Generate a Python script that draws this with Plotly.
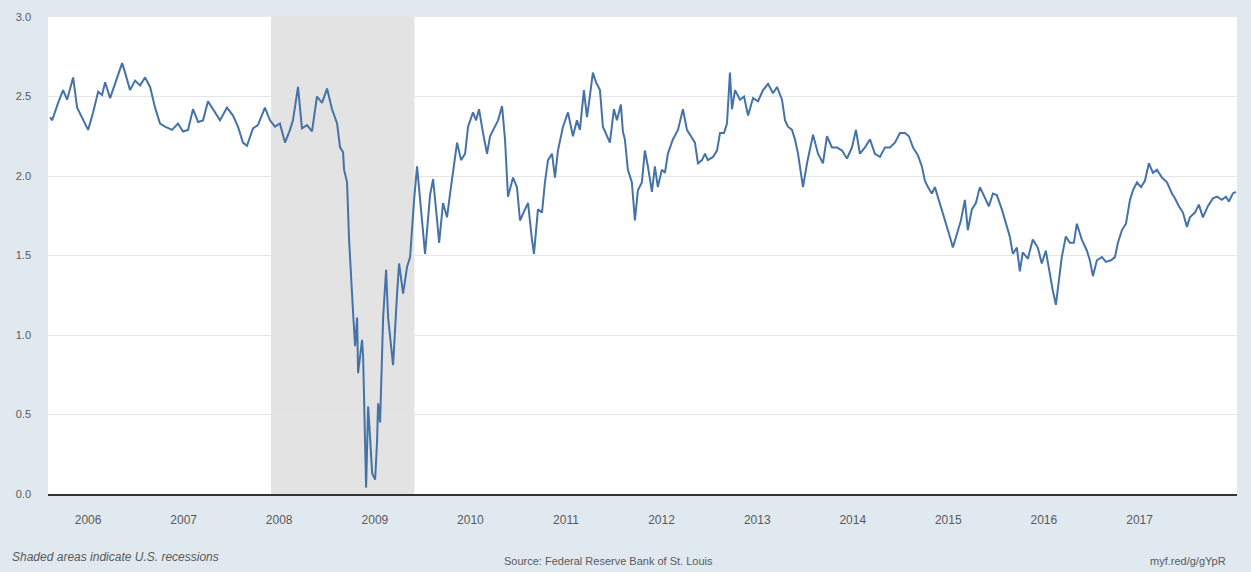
import plotly.graph_objects as go
from datetime import datetime

# Decimal-year dates and values
dec_years = [
    2005.603, 2005.623, 2005.686, 2005.738, 2005.780, 2005.812, 2005.843, 2005.885, 2005.937,
    2006.000, 2006.052, 2006.105, 2006.146, 2006.178, 2006.230, 2006.282, 2006.356, 2006.387,
    2006.439, 2006.492, 2006.544, 2006.596, 2006.649, 2006.701, 2006.753, 2006.805, 2006.879,
    2006.941, 2006.994, 2007.046, 2007.098, 2007.151, 2007.203, 2007.255, 2007.308, 2007.381,
    2007.454, 2007.517, 2007.569, 2007.621, 2007.663, 2007.726, 2007.778, 2007.851, 2007.904,
    2007.956, 2008.008, 2008.061, 2008.113, 2008.144, 2008.197, 2008.238, 2008.291, 2008.343,
    2008.395, 2008.448, 2008.500, 2008.552, 2008.605, 2008.636, 2008.667, 2008.678, 2008.709,
    2008.730, 2008.772, 2008.793, 2008.814, 2008.824, 2008.866, 2008.877, 2008.908, 2008.929,
    2008.950, 2008.971, 2009.002, 2009.023, 2009.033, 2009.054, 2009.086, 2009.117, 2009.138,
    2009.190, 2009.232, 2009.253, 2009.295, 2009.337, 2009.368, 2009.389, 2009.410, 2009.441,
    2009.494, 2009.525, 2009.577, 2009.609, 2009.651, 2009.672, 2009.713, 2009.755, 2009.787,
    2009.818, 2009.860, 2009.902, 2009.944, 2009.975, 2010.027, 2010.059, 2010.090, 2010.132,
    2010.174, 2010.205, 2010.257, 2010.289, 2010.331, 2010.362, 2010.393, 2010.446, 2010.487,
    2010.519, 2010.571, 2010.603, 2010.644, 2010.665, 2010.707, 2010.749, 2010.780, 2010.812,
    2010.854, 2010.885, 2010.916, 2010.969, 2011.021, 2011.073, 2011.115, 2011.146, 2011.188,
    2011.220, 2011.241, 2011.282, 2011.314, 2011.356, 2011.387, 2011.429, 2011.460, 2011.502,
    2011.534, 2011.575, 2011.596, 2011.617, 2011.648, 2011.690, 2011.722, 2011.753, 2011.795,
    2011.826, 2011.858, 2011.900, 2011.931, 2011.962, 2012.004, 2012.036, 2012.067, 2012.119,
    2012.172, 2012.224, 2012.266, 2012.308, 2012.349, 2012.381, 2012.423, 2012.454, 2012.485,
    2012.538, 2012.580, 2012.611, 2012.653, 2012.684, 2012.715, 2012.736, 2012.768, 2012.820,
    2012.862, 2012.904, 2012.956, 2013.008, 2013.061, 2013.113, 2013.165, 2013.207, 2013.259,
    2013.291, 2013.322, 2013.364, 2013.395, 2013.427, 2013.479, 2013.521, 2013.552, 2013.584,
    2013.636, 2013.688, 2013.730, 2013.782, 2013.835, 2013.887, 2013.939, 2013.992, 2014.033,
    2014.075, 2014.128, 2014.180, 2014.232, 2014.285, 2014.337, 2014.389, 2014.441, 2014.494,
    2014.546, 2014.588, 2014.630, 2014.682, 2014.724, 2014.755, 2014.787, 2014.828, 2014.860,
    2014.902, 2014.943, 2014.985, 2015.006, 2015.048, 2015.090, 2015.132, 2015.174, 2015.205,
    2015.247, 2015.289, 2015.331, 2015.383, 2015.425, 2015.467, 2015.508, 2015.561, 2015.603,
    2015.644, 2015.676, 2015.718, 2015.749, 2015.780, 2015.833, 2015.885, 2015.937, 2015.979,
    2016.021, 2016.063, 2016.094, 2016.126, 2016.146, 2016.188, 2016.230, 2016.272, 2016.314,
    2016.345, 2016.397, 2016.450, 2016.481, 2016.513, 2016.554, 2016.607, 2016.649, 2016.701,
    2016.743, 2016.774, 2016.816, 2016.858, 2016.900, 2016.931, 2016.973, 2017.015, 2017.056,
    2017.098, 2017.140, 2017.182, 2017.234, 2017.287, 2017.339, 2017.370, 2017.412, 2017.454,
    2017.496, 2017.527, 2017.580, 2017.621, 2017.663, 2017.715, 2017.768, 2017.810, 2017.862,
    2017.904, 2017.935, 2017.977, 2018.008,
]

values = [
    2.37, 2.35, 2.46, 2.54, 2.48, 2.56, 2.62, 2.43, 2.37,
    2.29, 2.40, 2.53, 2.51, 2.59, 2.49, 2.58, 2.71, 2.65,
    2.54, 2.60, 2.57, 2.62, 2.56, 2.43, 2.33, 2.31, 2.29,
    2.33, 2.28, 2.29, 2.42, 2.34, 2.35, 2.47, 2.42, 2.35,
    2.43, 2.38, 2.31, 2.21, 2.19, 2.30, 2.32, 2.43, 2.35,
    2.31, 2.33, 2.21, 2.29, 2.35, 2.56, 2.30, 2.32, 2.28,
    2.50, 2.46, 2.55, 2.42, 2.33, 2.18, 2.15, 2.04, 1.96,
    1.60, 1.14, 0.93, 1.11, 0.76, 0.97, 0.86, 0.04, 0.55,
    0.35, 0.13, 0.09, 0.34, 0.57, 0.45, 1.11, 1.41, 1.11,
    0.81, 1.26, 1.45, 1.26, 1.43, 1.49, 1.71, 1.85, 2.06,
    1.74, 1.51, 1.88, 1.98, 1.72, 1.58, 1.83, 1.74, 1.89,
    2.02, 2.21, 2.10, 2.14, 2.31, 2.40, 2.35, 2.42, 2.27,
    2.14, 2.25, 2.31, 2.35, 2.44, 2.23, 1.87, 1.99, 1.93,
    1.72, 1.79, 1.83, 1.60, 1.51, 1.79, 1.77, 1.96, 2.10,
    2.14, 1.99, 2.16, 2.31, 2.40, 2.25, 2.35, 2.29, 2.54,
    2.37, 2.46, 2.65, 2.59, 2.54, 2.31, 2.25, 2.21, 2.42,
    2.35, 2.45, 2.28, 2.23, 2.04, 1.96, 1.72, 1.91, 1.96,
    2.16, 2.06, 1.90, 2.06, 1.93, 2.04, 2.02, 2.14, 2.23,
    2.29, 2.42, 2.29, 2.25, 2.21, 2.08, 2.10, 2.14, 2.10,
    2.12, 2.16, 2.27, 2.27, 2.33, 2.65, 2.42, 2.54, 2.48,
    2.50, 2.38, 2.49, 2.47, 2.54, 2.58, 2.52, 2.56, 2.48,
    2.35, 2.31, 2.29, 2.23, 2.14, 1.93, 2.08, 2.16, 2.26,
    2.14, 2.08, 2.25, 2.18, 2.18, 2.16, 2.11, 2.18, 2.29,
    2.14, 2.18, 2.23, 2.14, 2.12, 2.18, 2.18, 2.21, 2.27,
    2.27, 2.25, 2.18, 2.13, 2.06, 1.97, 1.93, 1.89, 1.93,
    1.85, 1.77, 1.68, 1.64, 1.55, 1.64, 1.72, 1.85, 1.66,
    1.79, 1.83, 1.93, 1.86, 1.81, 1.89, 1.88, 1.79, 1.70,
    1.62, 1.51, 1.55, 1.40, 1.52, 1.48, 1.60, 1.55, 1.45,
    1.53, 1.37, 1.28, 1.19, 1.30, 1.49, 1.62, 1.58, 1.58,
    1.70, 1.60, 1.53, 1.47, 1.37, 1.47, 1.49, 1.46, 1.47,
    1.49, 1.58, 1.66, 1.70, 1.85, 1.91, 1.96, 1.93, 1.97,
    2.08, 2.02, 2.04, 1.99, 1.96, 1.89, 1.86, 1.81, 1.77,
    1.68, 1.74, 1.77, 1.82, 1.74, 1.81, 1.86, 1.87, 1.85,
    1.87, 1.84, 1.89, 1.90,
]

tick_years = [2006, 2007, 2008, 2009, 2010, 2011, 2012, 2013, 2014, 2015, 2016, 2017]
recession_start = "2007-12-01"
recession_end = "2009-06-01"
x_range = (2005.58, 2018.02)


def to_date(t):
    y = int(t)
    start = datetime(y, 1, 1)
    end = datetime(y + 1, 1, 1)
    return start + (end - start) * (t - y)


dates = [to_date(t) for t in dec_years]

FONT = "Liberation Sans, Arial, sans-serif"
TXT = "#595959"

fig = go.Figure()
fig.add_trace(go.Scatter(
    x=dates, y=values, mode="lines",
    line=dict(color="#4572a7", width=2),
    hoverinfo="x+y", showlegend=False,
))

fig.add_shape(type="rect", xref="x", yref="paper",
              x0=recession_start, x1=recession_end, y0=0, y1=1,
              fillcolor="#e3e3e3", line=dict(width=0), layer="between")

fig.update_layout(
    width=1251, height=572,
    paper_bgcolor="#e1e9f0", plot_bgcolor="#ffffff",
    margin=dict(l=48, r=14, t=17, b=78),
    font=dict(family=FONT, size=12, color=TXT),
    xaxis=dict(
        range=[to_date(x_range[0]), to_date(x_range[1])],
        tickvals=[datetime(y, 1, 1) for y in tick_years],
        ticktext=[str(y) for y in tick_years],
        showgrid=False, showline=True, linecolor="#333333", linewidth=2,
        ticks="", ticklabelstandoff=14, tickfont=dict(size=12, color=TXT),
        zeroline=False,
    ),
    yaxis=dict(
        range=[0, 3], dtick=0.5, tickformat=".1f",
        showgrid=True, gridcolor="#e6e6e6", gridwidth=1,
        zeroline=False, showline=False, ticks="",
        ticklabelstandoff=16, tickfont=dict(size=11, color=TXT),
    ),
    annotations=[
        dict(text="<i>Shaded areas indicate U.S. recessions</i>", xref="paper", yref="paper",
             x=-38 / 1189, y=-63 / 477, xanchor="left", yanchor="middle",
             showarrow=False, font=dict(size=12, color=TXT)),
        dict(text="Source: Federal Reserve Bank of St. Louis", xref="paper", yref="paper",
             x=(608 - 48) / 1189, y=-67 / 477, xanchor="center", yanchor="middle",
             showarrow=False, font=dict(size=11, color=TXT)),
        dict(text="myf.red/g/gYpR", xref="paper", yref="paper",
             x=(1228 - 48) / 1189, y=-67 / 477, xanchor="right", yanchor="middle",
             showarrow=False, font=dict(size=11, color=TXT)),
    ],
)

fig.write_html(
    "out.html",
    config={"displayModeBar": False},
    post_script="document.body.style.margin='0';document.body.style.overflow='hidden';",
)
